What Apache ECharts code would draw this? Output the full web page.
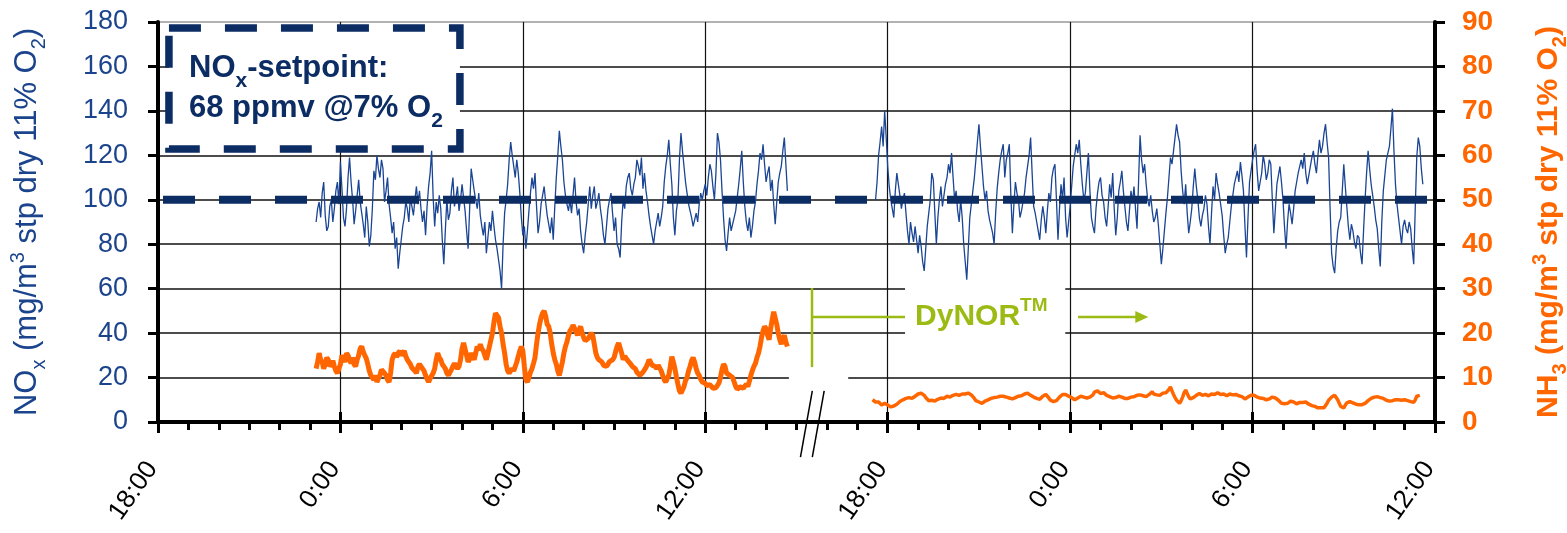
<!DOCTYPE html>
<html>
<head>
<meta charset="utf-8">
<script src="https://cdn.jsdelivr.net/npm/echarts@6/dist/echarts.min.js"></script>
<style>
  html, body { margin: 0; padding: 0; background: #fff; }
  #chart { width: 1567px; height: 533px; }
</style>
</head>
<body>
<div id="chart"></div>
<script>
// hours counted from 18:00 on the first day; the second part is drawn after the axis break
const xTickHours = [0, 6, 12, 18, 24, 30, 36, 42]
const step = 0.05

// NOx, left axis (mg/m3), one reading every 3 minutes
const noxDay1Start = 5.2
const noxDay1 = [
  90, 96, 99, 92, 103, 108, 93, 86, 88, 97, 100, 90, 96, 104, 108, 98, 117, 105, 92, 88,
  96, 110, 119, 108, 100, 89, 95, 102, 109, 99, 94, 89, 83, 97, 90, 79, 84, 96, 113, 109,
  120, 114, 110, 118, 114, 99, 104, 110, 98, 92, 85, 90, 78, 83, 69, 76, 82, 88, 92, 99,
  96, 90, 101, 97, 93, 100, 106, 98, 104, 96, 90, 95, 84, 97, 106, 112, 122, 101, 88, 99,
  94, 102, 96, 82, 71, 86, 100, 91, 94, 104, 110, 97, 101, 106, 95, 100, 107, 101, 95, 86,
  78, 96, 114, 109, 104, 100, 96, 103, 93, 88, 84, 90, 76, 83, 90, 86, 95, 88, 82, 78,
  73, 68, 60, 80, 94, 100, 107, 118, 126, 120, 115, 110, 118, 112, 103, 92, 84, 88, 78, 86,
  95, 103, 110, 105, 112, 97, 85, 90, 98, 102, 106, 99, 93, 89,
  85, 92, 82, 97, 110, 120, 131, 124, 118, 108, 102, 98, 95, 100, 94, 102, 110, 99, 93, 96,
  86, 80, 76, 84, 90, 98, 106, 96, 102, 106, 96, 99, 103, 96, 91, 84, 80, 88, 96, 100,
  103, 94, 86, 92, 80, 78, 74, 90, 100, 96, 106, 110, 112, 105, 102, 107, 110, 118, 115, 111,
  119, 105, 112, 104, 99, 93, 88, 84, 80, 86, 90, 94, 88, 92, 97, 108, 115, 120, 127, 116,
  107, 92, 84, 95, 100, 118, 130, 122, 115, 108, 103, 98, 95, 92, 88, 91, 94, 90, 98, 103,
  100, 104, 107, 102, 110, 116, 113, 106, 100, 112, 130, 126, 118, 104, 92, 82, 77, 85, 92, 86,
  89, 92, 95, 101, 107, 114, 122, 108, 97, 90, 86, 92, 83, 88, 95, 99, 107, 113, 121, 118,
  125, 116, 108, 112, 115, 104, 109, 98, 89, 99, 108, 112, 115, 122, 128, 116, 104
]
const noxDay2Start = 23.6
const noxDay2 = [
  100, 108, 120, 126, 133, 124, 140, 128, 115, 106, 100, 96, 92, 104, 112, 107, 102, 96, 100, 103,
  94, 86, 80, 90, 85, 81, 88, 82, 76, 84, 79, 72, 68, 78, 88, 94, 100, 112, 109, 94,
  80, 92, 100, 106, 97, 102, 107, 110, 116, 112, 121, 110, 100, 104, 95, 90, 100, 92, 80, 72,
  64, 78, 92, 98, 104, 110, 118, 126, 134, 124, 115, 106, 100, 104, 95, 91, 88, 85, 80, 94,
  105, 112, 118, 122, 125, 110, 118, 121, 125, 102, 85, 98, 108, 103, 100, 92, 95, 99, 103, 110,
  115, 120, 128, 112, 97, 94, 90, 86, 82, 91, 97, 92, 85, 95, 103, 99, 110, 114, 116, 100,
  82, 96, 107, 100, 110, 92, 83, 90, 97, 106, 115, 120, 125, 121, 127, 116, 107, 100, 103, 112,
  121, 104, 92, 88, 85, 96, 103, 108, 110, 102, 99, 92, 88, 97, 107, 101,
  112, 96, 84, 92, 104, 108, 113, 104, 97, 90, 86, 95, 104, 99, 106, 96, 87, 108, 129, 118,
  112, 116, 107, 100, 97, 102, 95, 90, 92, 96, 89, 80, 71, 78, 86, 94, 101, 110, 119, 116,
  122, 128, 134, 129, 126, 113, 104, 98, 107, 94, 85, 90, 96, 106, 114, 106, 100, 92, 88, 93,
  96, 102, 98, 88, 80, 94, 106, 100, 112, 107, 103, 98, 93, 84, 76, 80, 83, 90, 97, 102,
  107, 110, 113, 108, 117, 111, 104, 88, 74, 92, 108, 113, 118, 122, 125, 113, 104, 108, 112, 120,
  116, 109, 112, 118, 116, 100, 85, 96, 107, 111, 115, 108, 100, 88, 78, 90, 98, 94, 89, 96,
  104, 108, 112, 115, 118, 114, 121, 112, 107, 111, 115, 119, 122, 116, 112, 120, 127, 121, 124, 130,
  134, 126, 119, 96, 76, 70, 67, 78, 86, 90, 92, 104, 116, 106, 97, 88, 82, 89, 86, 81,
  78, 84, 83, 76, 71, 86, 100, 112, 122, 114, 107, 102, 97, 91, 87, 78, 70, 90, 104, 111,
  118, 121, 124, 132, 141, 122, 107, 98, 92, 86, 80, 88, 91, 87, 85, 90, 87, 78, 71, 96,
  119, 128, 124, 114, 107
]

// NH3, right axis (mg/m3)
const nh3Day1Start = 5.2
const nh3Day1 = [
  12, 13.5, 15.5, 14, 13.5, 12, 13, 14.5, 14, 12.5, 13, 13.8, 12.5, 11.5, 11, 12, 13, 15, 14.7, 13.5,
  15.5, 15, 14, 13.2, 14.5, 13, 12.5, 14, 15, 16.5, 17, 15.8, 15, 14.3, 13, 11.5, 10.5, 10, 9.5, 10.5,
  9, 9.8, 10.5, 11.8, 12, 11, 10.5, 9.5, 9, 11, 14, 15, 15.5, 14.6, 15.5, 16, 15, 15.3, 16, 14.8,
  14, 13.8, 13, 12.2, 12, 11.5, 11, 12.5, 13, 12.6, 12, 11.5, 10.5, 9.7, 9, 9.8, 9.5, 11, 12, 14,
  15.5, 14.5, 14, 13, 12.5, 12, 11, 10.5, 10.5, 11.8, 12.5, 13.2, 12.5, 12, 12.5, 14, 16.5, 17.8, 17.5, 15,
  13.5, 14.2, 15.5, 14.8, 14, 15.5, 17, 16.2, 17.5, 16.5, 16, 15, 14, 15.5, 17, 18.5, 20, 22.5, 24.5, 24.8,
  23.5, 21.5, 20, 17.5, 15.5, 13, 11.5, 11, 11, 12, 11.5, 12.5, 13.5, 14.8, 16, 17, 16, 12.5, 9.5, 9,
  10, 11.2, 12, 13.2, 14.5, 17.5, 20, 22, 23.5, 24.5, 25, 23.8, 22, 21.5,
  20, 17.5, 15.5, 14, 13, 11.5, 10.5, 12, 13.5, 15.5, 17, 18, 19.5, 20.5, 21, 21.8, 21.5, 20.3, 19.5, 20.8,
  21.5, 20, 19, 18.3, 18, 18.8, 19, 20, 19.5, 17.5, 15.5, 14.5, 14, 14.2, 13.5, 12.8, 12.5, 12.5, 13, 13.6,
  13.5, 14, 14.5, 15.8, 17, 17.8, 17.5, 15.5, 14, 14.8, 14.5, 13.8, 14, 13, 12.5, 12.8, 12, 11.2, 11, 10.5,
  10.5, 11.2, 11.5, 12.3, 13, 14, 13.5, 12.8, 12.5, 12.5, 12, 12.8, 12.5, 11.5, 10.5, 9.5, 9, 9.8, 10.5, 12.5,
  14.7, 13.5, 12, 10.2, 8.5, 7, 6.5, 7.2, 8, 9.3, 10, 11.5, 12.5, 13.8, 14.5, 13.5, 12, 11, 10.5, 9.6,
  9, 9.2, 8.7, 8.2, 8.5, 8.4, 8, 7.6, 8, 7.7, 7.5, 8.8, 10, 11.8, 13, 12.5, 11, 11.2, 10.5, 10.6,
  10, 9, 8, 7.4, 7.5, 7.9, 8, 7.6, 8, 8.5, 8, 9.2, 10.5, 11.6, 12.5, 13.2, 14.5, 15.5, 17, 19,
  20.5, 21.5, 21, 19.5, 18.5, 21, 23, 24.8, 24.5, 22, 20, 18.5, 17.5, 18.8, 19.5, 18, 17
]
const nh3Day2Start = 23.5
const nh3Day2 = [
  5.0, 4.7,
  4.5, 4.3, 4.5, 4.1, 3.8, 4.0, 4.2, 4.0, 3.8, 3.5, 3.4, 3.7, 3.6, 3.9, 4.0, 4.2, 4.6, 4.9, 5.0, 5.1,
  5.3, 5.2, 5.5, 5.6, 5.3, 5.6, 5.8, 6.1, 6.3, 6.2, 6.5, 6.4, 6.0, 5.5, 5.2, 4.8, 4.6, 4.9, 5.0, 4.7,
  4.8, 5.1, 5.3, 5.4, 5.5, 5.3, 5.6, 5.8, 5.9, 5.6, 5.7, 6.0, 6.0, 6.2, 6.3, 6.0, 6.0, 6.3, 6.1, 6.3,
  6.5, 6.5, 6.3, 6.1, 5.8, 5.3, 4.8, 4.6, 4.5, 4.4, 4.2, 4.4, 4.7, 4.8, 5.0, 5.2, 5.3, 5.2, 5.5, 5.7,
  5.6, 5.5, 5.8, 6.0, 5.8, 5.6, 5.6, 5.7, 5.4, 5.3, 5.2, 5.4, 5.5, 5.6, 5.8, 6.0, 5.9, 6.1, 6.3, 6.2,
  6.5, 6.3, 6.0, 5.8, 5.6, 5.5, 5.3, 5.0, 5.1, 5.5, 5.8, 6.1, 6.2, 5.8, 5.4, 4.9, 4.5, 4.6, 4.8, 4.8,
  5.0, 5.6, 6.0, 6.2, 6.4, 6.2, 6.0, 5.8, 5.6, 5.5, 5.3, 5.0, 5.2, 5.4, 5.6, 5.8, 5.8, 5.6, 5.6, 5.4,
  5.3, 5.6, 5.5, 6.1, 6.7, 7.1, 7.0, 6.6, 6.4, 6.3, 6.6, 6.2, 6.0, 6.0, 5.7, 5.5,
  5.4, 5.7, 5.5, 5.4, 5.8, 5.9, 5.6, 5.5, 5.3, 5.5, 5.3, 5.4, 5.6, 5.8, 5.7, 5.8, 6.0, 6.2, 6.1, 6.0,
  5.9, 5.8, 5.7, 6.0, 6.2, 6.5, 6.8, 6.3, 5.9, 6.1, 5.8, 6.0, 6.4, 6.5, 6.6, 6.6, 6.8, 7.3, 7.9, 7.0,
  6.2, 5.5, 4.9, 4.5, 4.2, 4.8, 5.6, 6.6, 7.2, 6.4, 5.7, 5.2, 5.0, 5.5, 5.9, 6.0, 6.3, 6.4, 6.2, 6.0,
  6.0, 6.2, 6.1, 5.9, 6.1, 6.3, 6.3, 6.2, 6.5, 6.6, 6.4, 6.2, 6.2, 6.3, 6.0, 5.9, 6.1, 6.3, 6.3, 6.1,
  6.4, 6.2, 6.0, 5.9, 5.7, 5.7, 5.5, 5.2, 5.3, 5.6, 5.8, 6.0, 6.1, 6.0, 5.8, 5.6, 5.4, 5.4, 5.2, 5.3,
  5.1, 5.0, 5.0, 5.2, 5.4, 5.6, 5.7, 5.4, 5.1, 4.9, 4.6, 4.2, 3.9, 4.1, 4.0, 4.2, 4.4, 4.7, 4.6, 4.5,
  4.3, 4.1, 4.2, 4.4, 4.5, 4.4, 4.6, 4.5, 4.3, 4.0, 3.8, 3.7, 3.6, 3.5, 3.4, 3.2, 3.3, 3.2, 3.1, 3.2,
  3.4, 4.2, 4.9, 5.3, 5.6, 5.9, 6.0, 5.6, 5.0, 4.2, 3.5, 3.3, 3.2, 3.8, 4.3, 4.4, 4.6, 4.4, 4.3, 4.1,
  4.0, 3.8, 3.9, 4.0, 3.9, 4.0, 4.2, 4.5, 4.8, 5.1, 5.3, 5.4, 5.6, 5.7, 5.7, 5.6, 5.5, 5.4, 5.3, 5.1,
  4.9, 4.8, 4.7, 4.8, 4.8, 4.9, 5.0, 5.1, 5.0, 4.9, 4.9, 5.0, 5.0, 4.9, 4.8, 4.7, 4.6, 4.5, 4.4, 5.0,
  5.8, 6.1, 6.0
]

// NOx setpoint (mg/m3 @11% O2)
const setpoint = 100

const FONT = "'Liberation Sans', Arial, sans-serif"
const NAVY = '#0c2d64'
const BLUE = '#1b448c'
const LINE_BLUE = '#1a4594'
const ORANGE = '#ff6600'
const GREEN = '#9bbb14'

function toPairs(start, values) {
  return values.map((v, i) => [+(start + i * step).toFixed(2), v])
}

function hourLabel(v) {
  return ((18 + v) % 24) + ':00'
}

const chart = echarts.init(document.getElementById('chart'), null, { renderer: 'canvas' })

// the 180 line is lighter than the others
const gridColors = ['#111', '#111', '#111', '#111', '#111', '#111', '#111', '#111', '#111', '#999']

const subStyle = (color, weight) => ({
  fontSize: 20, fontWeight: weight, color, fontFamily: FONT, verticalAlign: 'bottom', padding: [0, 0, -6, 0],
})
const supStyle = (color, weight) => ({
  fontSize: 20, fontWeight: weight, color, fontFamily: FONT, verticalAlign: 'top', padding: [-4, 0, 0, 0],
})

const option = {
  animation: false,
  backgroundColor: '#fff',
  grid: { left: 158, right: 132, top: 22, bottom: 111, containLabel: false, outerBoundsMode: 'none' },
  xAxis: [
    {
      type: 'value',
      min: xTickHours[0],
      max: xTickHours[xTickHours.length - 1],
      interval: 6,
      position: 'bottom',
      axisLine: { show: true, onZero: false, lineStyle: { color: '#000', width: 4 } },
      axisTick: { show: true, length: 11, lineStyle: { color: '#000', width: 3 } },
      minorTick: { show: true, splitNumber: 6, length: 8, lineStyle: { color: '#000', width: 3 } },
      splitLine: { show: true, lineStyle: { color: '#111', width: 1.2 } },
      axisLabel: {
        rotate: 55,
        margin: 34,
        padding: [0, 10, 0, 0],
        fontSize: 26,
        color: '#000',
        fontFamily: FONT,
        formatter: hourLabel,
      },
    },
    {
      // inner half of the major ticks
      type: 'value',
      min: xTickHours[0],
      max: xTickHours[xTickHours.length - 1],
      interval: 6,
      position: 'bottom',
      axisLine: { show: false },
      axisTick: { show: true, inside: true, length: 10, lineStyle: { color: '#000', width: 3 } },
      axisLabel: { show: false },
      splitLine: { show: false },
    },
  ],
  yAxis: [
    {
      type: 'value',
      min: 0,
      max: 180,
      interval: 20,
      position: 'left',
      name: '{a|NO}{s|x}{a| (mg/m}{p|3}{a| stp dry 11% O}{s|2}{a|)}',
      nameLocation: 'middle',
      nameRotate: 90,
      nameGap: 115,
      nameTextStyle: {
        color: BLUE,
        fontFamily: FONT,
        rich: {
          a: { fontSize: 31, color: BLUE, fontFamily: FONT },
          s: subStyle(BLUE, 'normal'),
          p: supStyle(BLUE, 'normal'),
        },
      },
      axisLine: { show: true, onZero: false, lineStyle: { color: '#000', width: 4 } },
      axisTick: { show: true, length: 10, lineStyle: { color: '#000', width: 3 } },
      splitLine: { show: true, lineStyle: { color: gridColors, width: 1.5 } },
      axisLabel: { margin: 30, fontSize: 27, color: BLUE, fontFamily: FONT },
    },
    {
      type: 'value',
      min: 0,
      max: 90,
      interval: 10,
      position: 'right',
      name: '{a|NH}{s|3}{a| (mg/m}{p|3}{a| stp dry 11% O}{s|2}{a|)}',
      nameLocation: 'middle',
      nameRotate: 90,
      nameGap: 99,
      nameTextStyle: {
        color: ORANGE,
        fontFamily: FONT,
        rich: {
          a: { fontSize: 30, fontWeight: 'bold', color: ORANGE, fontFamily: FONT },
          s: subStyle(ORANGE, 'bold'),
          p: supStyle(ORANGE, 'bold'),
        },
      },
      axisLine: { show: true, onZero: false, lineStyle: { color: '#000', width: 4 } },
      axisTick: { show: true, length: 10, lineStyle: { color: '#000', width: 3 } },
      splitLine: { show: false },
      axisLabel: { margin: 27, fontSize: 28, fontWeight: 'bold', color: ORANGE, fontFamily: FONT },
    },
    {
      // inner half of the right-hand ticks
      type: 'value',
      min: 0,
      max: 90,
      interval: 10,
      position: 'right',
      axisLine: { show: false },
      axisTick: { show: true, inside: true, length: 10, lineStyle: { color: '#000', width: 3 } },
      axisLabel: { show: false },
      splitLine: { show: false },
    },
  ],
  series: [
    {
      name: 'NOx day 1',
      type: 'line',
      xAxisIndex: 0,
      yAxisIndex: 0,
      showSymbol: false,
      lineStyle: { color: LINE_BLUE, width: 1.3 },
      data: toPairs(noxDay1Start, noxDay1),
      z: 3,
    },
    {
      name: 'NOx day 2',
      type: 'line',
      xAxisIndex: 0,
      yAxisIndex: 0,
      showSymbol: false,
      lineStyle: { color: LINE_BLUE, width: 1.3 },
      data: toPairs(noxDay2Start, noxDay2),
      z: 3,
    },
    {
      name: 'NH3 day 1',
      type: 'line',
      xAxisIndex: 0,
      yAxisIndex: 1,
      showSymbol: false,
      lineStyle: { color: ORANGE, width: 5 },
      data: toPairs(nh3Day1Start, nh3Day1),
      z: 3,
    },
    {
      name: 'NH3 day 2',
      type: 'line',
      xAxisIndex: 0,
      yAxisIndex: 1,
      showSymbol: false,
      lineStyle: { color: ORANGE, width: 3.5 },
      data: toPairs(nh3Day2Start, nh3Day2),
      z: 3,
    },
    {
      name: 'NOx setpoint',
      type: 'line',
      xAxisIndex: 0,
      yAxisIndex: 0,
      showSymbol: false,
      lineStyle: { color: NAVY, width: 8, type: [32, 24], dashOffset: 51, cap: 'butt' },
      data: [[xTickHours[0], setpoint], [xTickHours[xTickHours.length - 1], setpoint]],
      z: 5,
    },
  ],
}

chart.setOption(option)

// annotations, placed in axis units (hours, left-axis value)
function px(h, v) {
  return chart.convertToPixel({ xAxisIndex: 0, yAxisIndex: 0 }, [h, v])
}

function addAnnotations() {
  const boxA = px(0.36, 177.3)
  const boxB = px(9.93, 122.9)
  const txt1 = px(1.02, 152)
  const txt2 = px(1.02, 134)

  const maskA = px(24.57, 62)
  const maskB = px(29.84, 34.6)

  const brkMaskA = px(20.75, 22.5)
  const brkMaskB = px(22.7, 14)
  const brk1a = px(21.13, -15.8)
  const brk1b = px(21.52, 14)
  const brk2a = px(21.52, -15.8)
  const brk2b = px(21.91, 14)

  const vTop = px(21.51, 60.3)
  const vBot = px(21.51, 24.7)
  const hEnd = px(24.57, 47.2)
  const dyText = px(24.9, 47.2)
  const arrA = px(30.26, 47.2)
  const arrB = px(32.57, 47.2)

  const boxRich = {
    b: { fontSize: 31, fontWeight: 'bold', fontFamily: FONT, fill: NAVY },
    s: { fontSize: 21, fontWeight: 'bold', fontFamily: FONT, fill: NAVY, verticalAlign: 'bottom', padding: [0, 0, -7, 0] },
  }

  const graphic = [
    // white patch behind the DyNOR label
    {
      type: 'rect', z: 1,
      shape: { x: maskA[0], y: maskA[1], width: maskB[0] - maskA[0], height: maskB[1] - maskA[1] },
      style: { fill: '#fff' },
    },
    // white patch at the axis break
    {
      type: 'rect', z: 1,
      shape: { x: brkMaskA[0], y: brkMaskA[1], width: brkMaskB[0] - brkMaskA[0], height: brkMaskB[1] - brkMaskA[1] },
      style: { fill: '#fff' },
    },
    {
      type: 'line', z: 10,
      shape: { x1: brk1a[0], y1: brk1a[1], x2: brk1b[0], y2: brk1b[1] },
      style: { stroke: '#000', lineWidth: 1.5 },
    },
    {
      type: 'line', z: 10,
      shape: { x1: brk2a[0], y1: brk2a[1], x2: brk2b[0], y2: brk2b[1] },
      style: { stroke: '#000', lineWidth: 1.5 },
    },
    // setpoint box
    {
      type: 'rect', z: 10,
      shape: { x: boxA[0], y: boxA[1], width: boxB[0] - boxA[0], height: boxB[1] - boxA[1] },
      style: { fill: '#fff', stroke: NAVY, lineWidth: 7.5, lineDash: [32, 24] },
    },
    {
      type: 'text', z: 11,
      x: txt1[0], y: txt1[1],
      style: { text: '{b|NO}{s|x}{b|-setpoint:}', verticalAlign: 'bottom', rich: boxRich },
    },
    {
      type: 'text', z: 11,
      x: txt2[0], y: txt2[1],
      style: { text: '{b|68 ppmv @7% O}{s|2}', verticalAlign: 'bottom', rich: boxRich },
    },
    // DyNOR annotation
    {
      type: 'line', z: 10,
      shape: { x1: vTop[0], y1: vTop[1], x2: vBot[0], y2: vBot[1] },
      style: { stroke: GREEN, lineWidth: 2.5 },
    },
    {
      type: 'line', z: 10,
      shape: { x1: vTop[0], y1: hEnd[1], x2: hEnd[0], y2: hEnd[1] },
      style: { stroke: GREEN, lineWidth: 2.5 },
    },
    {
      type: 'text', z: 10,
      x: dyText[0], y: dyText[1],
      style: {
        text: '{a|DyNOR}{t|TM}',
        verticalAlign: 'middle',
        rich: {
          a: { fontSize: 30, fontWeight: 'bold', fontFamily: FONT, fill: GREEN },
          t: { fontSize: 19, fontWeight: 'bold', fontFamily: FONT, fill: GREEN, verticalAlign: 'top', padding: [-6, 0, 0, 0] },
        },
      },
    },
    {
      type: 'line', z: 10,
      shape: { x1: arrA[0], y1: arrA[1], x2: arrB[0] - 10, y2: arrB[1] },
      style: { stroke: GREEN, lineWidth: 2.5 },
    },
    {
      type: 'polygon', z: 10,
      shape: { points: [[arrB[0], arrB[1]], [arrB[0] - 13, arrB[1] - 6], [arrB[0] - 13, arrB[1] + 6]] },
      style: { fill: GREEN },
    },
  ]

  chart.setOption({ graphic })
}

addAnnotations()
</script>
</body>
</html>
